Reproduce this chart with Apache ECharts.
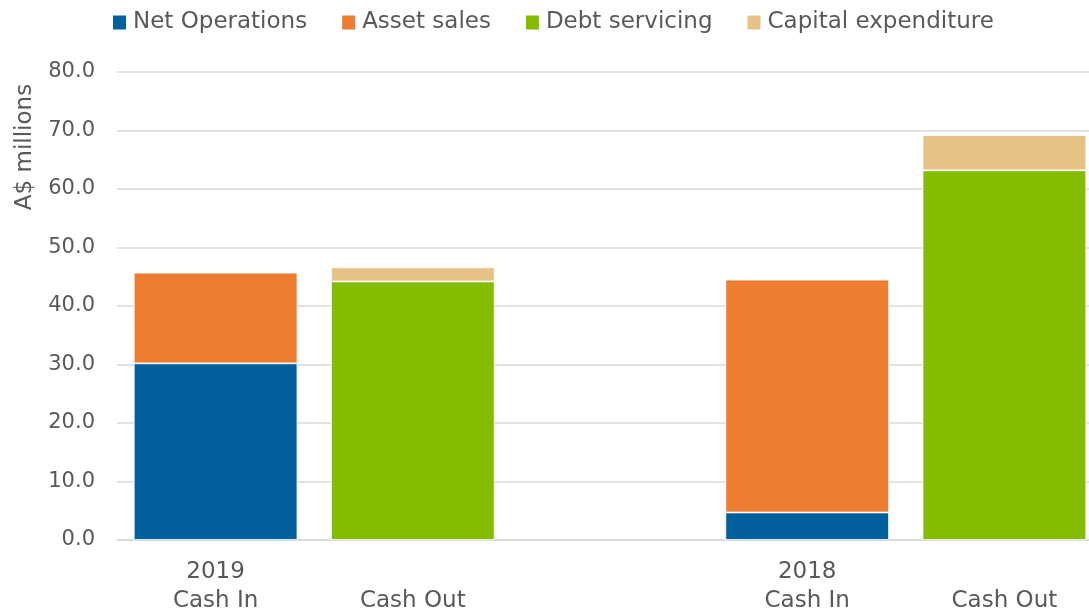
<!DOCTYPE html>
<html>
<head>
<meta charset="utf-8">
<script src="https://cdn.jsdelivr.net/npm/echarts@6/dist/echarts.min.js"></script>
<style>
  html, body { margin: 0; padding: 0; background: #fff; }
  #chart { width: 1089px; height: 613px; }
</style>
</head>
<body>
<div id="chart"></div>
<script>
// categories (third slot is an empty spacer between the years)
const categories = ['2019\nCash In', '\nCash Out', '', '2018\nCash In', '\nCash Out'];
const netOperations = [30.2, '-', '-', 4.7, '-'];
const assetSales = [15.5, '-', '-', 39.8, '-'];
const debtServicing = ['-', 44.2, '-', '-', 63.2];
const capitalExpenditure = ['-', 2.4, '-', '-', 6.0];

const textColor = '#595959';
const font = '"DejaVu Sans", sans-serif';

function barSeries (name, data, color) {
  return {
    name: name,
    type: 'bar',
    stack: 'total',
    data: data,
    barWidth: '83%',
    itemStyle: { color: color, borderColor: '#fff', borderWidth: 0.8 },
  };
}

const chart = echarts.init(document.getElementById('chart'));
chart.setOption({
  animation: false,
  textStyle: { fontFamily: font },
  legend: {
    top: 11,
    left: 113,
    padding: 0,
    itemWidth: 13,
    itemHeight: 14,
    itemGap: 35,
    icon: 'rect',
    itemStyle: { borderWidth: 0 },
    textStyle: { color: textColor, fontSize: 23, fontFamily: font, padding: [0, 0, 0, 2] },
  },
  grid: {
    left: 117,
    right: -14,
    top: 72,
    bottom: 73,
    containLabel: false,
    outerBoundsMode: 'none',
  },
  graphic: [{
    type: 'text',
    x: 25,
    y: 147,
    rotation: Math.PI / 2,
    style: {
      text: 'A$ millions',
      fill: textColor,
      fontSize: 23,
      fontFamily: font,
      align: 'center',
      verticalAlign: 'middle',
    },
  }],
  xAxis: {
    type: 'category',
    data: categories,
    axisTick: { show: false },
    axisLine: { lineStyle: { color: '#d9d9d9', width: 1.5 } },
    axisLabel: {
      interval: 0,
      margin: 18,
      color: textColor,
      fontSize: 23,
      lineHeight: 29,
      fontFamily: font,
    },
  },
  yAxis: {
    type: 'value',
    min: 0,
    max: 80,
    interval: 10,
    axisLine: { show: false },
    axisTick: { show: false },
    splitLine: { lineStyle: { color: '#d9d9d9', width: 1.5 } },
    axisLabel: {
      margin: 22,
      color: textColor,
      fontSize: 21,
      fontFamily: font,
      formatter: v => v.toFixed(1),
    },
  },
  series: [
    barSeries('Net Operations', netOperations, '#03609e'),
    barSeries('Asset sales', assetSales, '#ed7d31'),
    barSeries('Debt servicing', debtServicing, '#84bc00'),
    barSeries('Capital expenditure', capitalExpenditure, '#e6c285'),
  ],
});
</script>
</body>
</html>
